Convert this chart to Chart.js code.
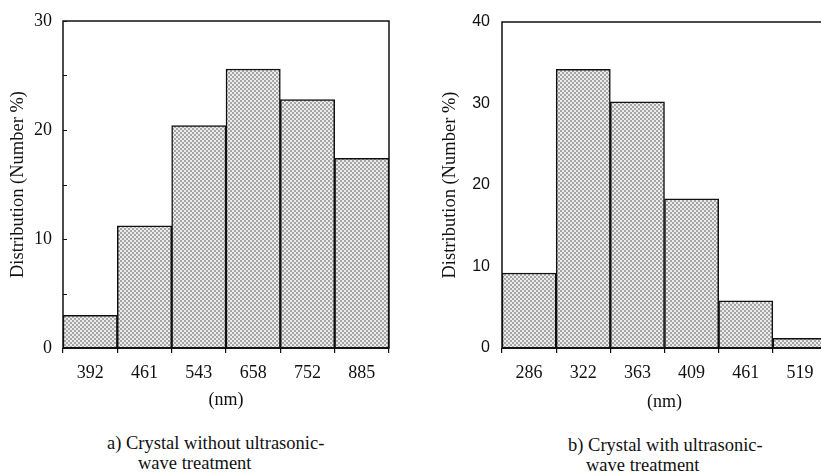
<!DOCTYPE html>
<html lang="en">
<head>
<meta charset="UTF-8">
<title>Crystal size distribution</title>
<script src="https://cdn.jsdelivr.net/npm/chart.js"></script>
<style>
  body {
    margin: 0;
    width: 821px;
    height: 472px;
    overflow: hidden;
    background: #fff;
    position: relative;
    font-family: 'Liberation Serif', serif;
    color: #111;
  }
  .panel { position: absolute; top: 0; height: 414px; }
  #panelA { left: 0; width: 400px; }
  #panelB { left: 410px; width: 430px; }
  .caption {
    position: absolute;
    font-size: 18.5px;
    line-height: 20px;
    white-space: nowrap;
  }
  .caption span { display: block; }
</style>
</head>
<body>
  <div class="panel" id="panelA"><canvas id="chartA"></canvas></div>
  <div class="panel" id="panelB"><canvas id="chartB"></canvas></div>

  <div class="caption" style="left:107px; top:433px;">
    <span>a) Crystal without ultrasonic-</span>
    <span style="margin-left:31px;">wave treatment</span>
  </div>
  <div class="caption" style="left:568px; top:435px;">
    <span>b) Crystal with ultrasonic-</span>
    <span style="margin-left:18px;">wave treatment</span>
  </div>

<script>
// size classes (nm) and number distribution (%)
const sizesA = ['392', '461', '543', '658', '752', '885'];
const distA = [3.0, 11.2, 20.4, 25.6, 22.8, 17.4];
const sizesB = ['286', '322', '363', '409', '461', '519'];
const distB = [9.2, 34.2, 30.2, 18.3, 5.8, 1.2];
const yMaxA = 30;
const yMaxB = 40;

// fine checker fill like the printed screen tone
function dotPattern() {
  const c = document.createElement('canvas');
  c.width = 4; c.height = 4;
  const g = c.getContext('2d');
  g.fillStyle = '#ececec';
  g.fillRect(0, 0, 4, 4);
  g.fillStyle = '#a6a6a6';
  g.fillRect(0, 0, 2, 2);
  g.fillRect(2, 2, 2, 2);
  return g.createPattern(c, 'repeat');
}

// box around the plot area + optional inward minor ticks on y
const framePlugin = {
  id: 'frame',
  afterDatasetsDraw(chart, args, opts) {
    const { ctx, chartArea: a, scales } = chart;
    ctx.save();
    ctx.strokeStyle = '#111';
    ctx.lineWidth = 1.5;
    ctx.strokeRect(a.left, a.top, a.right - a.left, a.bottom - a.top);
    ctx.lineWidth = 2;
    ctx.beginPath();
    ctx.moveTo(a.left, a.bottom);
    ctx.lineTo(a.right, a.bottom);
    ctx.stroke();
    if (opts.minorStep) {
      ctx.lineWidth = 1;
      for (let v = 0; v <= scales.y.max; v += opts.minorStep) {
        const y = Math.round(scales.y.getPixelForValue(v)) + 0.5;
        ctx.beginPath();
        ctx.moveTo(a.left, y);
        ctx.lineTo(a.left + 4, y);
        ctx.stroke();
      }
    }
    ctx.restore();
  }
};

function makeChart(id, labels, values, s) {
  return new Chart(document.getElementById(id), {
    type: 'bar',
    data: {
      labels: labels,
      datasets: [{
        data: values,
        backgroundColor: dotPattern(),
        borderColor: '#111',
        borderWidth: 1.5,
        barPercentage: 1,
        categoryPercentage: 1
      }]
    },
    options: {
      responsive: true,
      maintainAspectRatio: false,
      animation: false,
      layout: { padding: s.padding },
      plugins: {
        legend: { display: false },
        tooltip: { enabled: false },
        frame: { minorStep: s.minorStep }
      },
      scales: {
        x: {
          afterFit: sc => { sc.height = 66; },
          grid: {
            display: true,
            offset: true,
            drawOnChartArea: false,
            drawTicks: true,
            tickLength: 5,
            color: '#111',
            lineWidth: 1.2
          },
          border: { display: false },
          ticks: {
            padding: 9,
            color: '#111',
            font: { family: 'Liberation Serif', size: 18 }
          },
          title: {
            display: true,
            text: '(nm)',
            color: '#111',
            font: { family: 'Liberation Serif', size: 18 },
            padding: { top: 0, bottom: s.xTitlePad }
          }
        },
        y: {
          min: 0,
          max: s.yMax,
          afterFit: sc => { sc.width = s.yWidth; },
          grid: { display: false },
          border: { display: false },
          ticks: {
            stepSize: 10,
            padding: s.yTickPad,
            color: '#111',
            font: s.yFont
          },
          title: {
            display: true,
            text: 'Distribution (Number %)',
            color: '#111',
            font: { family: 'Liberation Serif', size: 18.5 },
            padding: { top: s.yTitlePad, bottom: 0 }
          }
        }
      }
    },
    plugins: [framePlugin]
  });
}

makeChart('chartA', sizesA, distA, {
  padding: { left: 0, top: 21, right: 11, bottom: 0 },
  yMax: yMaxA,
  yWidth: 63,
  yTickPad: 3,
  yTitlePad: 7,
  xTitlePad: 3,
  minorStep: 5,
  yFont: { family: 'Liberation Serif', size: 18 }
});

makeChart('chartB', sizesB, distB, {
  padding: { left: 0, top: 22, right: 13, bottom: 0 },
  yMax: yMaxB,
  yWidth: 92,
  yTickPad: 4,
  yTitlePad: 29,
  xTitlePad: 1,
  minorStep: 0,
  yFont: { family: 'Liberation Sans', size: 16 }
});
</script>
</body>
</html>
